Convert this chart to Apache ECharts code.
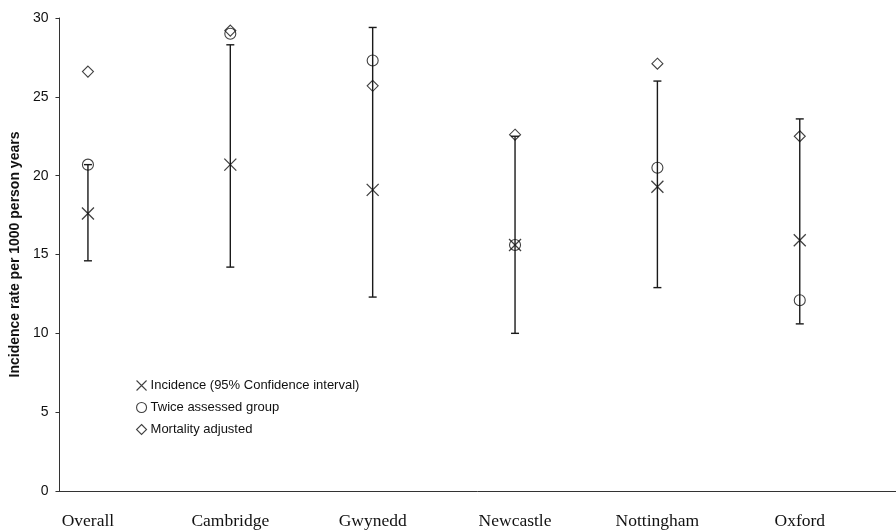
<!DOCTYPE html>
<html>
<head>
<meta charset="utf-8">
<script src="https://cdn.jsdelivr.net/npm/echarts@6/dist/echarts.min.js"></script>
<style>
  html, body { margin: 0; padding: 0; background: #fff; }
  #chart { width: 896px; height: 532px; }
</style>
</head>
<body>
<div id="chart"></div>
<script>
// Incidence rates per 1000 person years, by centre
const categories = ['Overall', 'Cambridge', 'Gwynedd', 'Newcastle', 'Nottingham', 'Oxford'];
const incidence = [17.6, 20.7, 19.1, 15.6, 19.3, 15.9];
const ciLower = [14.6, 14.2, 12.3, 10.0, 12.9, 10.6];
const ciUpper = [20.7, 28.3, 29.4, 22.5, 26.0, 23.6];
const twiceAssessed = [20.7, 29.0, 27.3, 15.6, 20.5, 12.1];
const mortalityAdjusted = [26.6, 29.2, 25.7, 22.6, 27.1, 22.5];
const yTicks = [0, 5, 10, 15, 20, 25, 30];

const INK = '#111';
const crossPath = 'path://M0,0L10,10M10,0L0,10';
const hollow = { color: 'transparent', borderColor: INK, borderWidth: 1.1 };

const chart = echarts.init(document.getElementById('chart'), null, { renderer: 'canvas' });

chart.setOption({
  animation: false,
  backgroundColor: '#fff',
  grid: { left: 54, right: 0, top: 18, bottom: 41 },
  legend: {
    orient: 'vertical',
    left: 131,
    top: 374,
    itemGap: 9,
    itemWidth: 10,
    itemHeight: 10,
    selectedMode: false,
    textStyle: { fontFamily: 'Liberation Sans, Arial, sans-serif', fontSize: 13, color: INK, padding: [0, 0, 0, -1] },
    data: [
      { name: 'Incidence (95% Confidence interval)', icon: crossPath, itemStyle: hollow },
      { name: 'Twice assessed group', icon: 'circle', itemStyle: hollow },
      { name: 'Mortality adjusted', icon: 'diamond', itemStyle: hollow }
    ]
  },
  xAxis: {
    type: 'value',
    min: -0.2,
    max: 5.676,
    splitLine: { show: false },
    axisTick: { show: false },
    axisLine: { show: true, onZero: false, lineStyle: { color: '#333', width: 1 } },
    axisLabel: {
      customValues: categories.map((c, i) => i),
      formatter: v => categories[Math.round(v)],
      margin: 21,
      fontFamily: 'Liberation Serif, Times New Roman, serif',
      fontSize: 17.5,
      color: INK
    }
  },
  yAxis: {
    type: 'value',
    min: 0,
    max: 30,
    interval: 5,
    name: 'Incidence rate per 1000 person years',
    nameLocation: 'middle',
    nameGap: 32,
    nameTextStyle: { fontFamily: 'Liberation Sans, Arial, sans-serif', fontSize: 14, fontWeight: 'bold', color: INK },
    splitLine: { show: false },
    axisLine: { show: true, onZero: false, lineStyle: { color: '#333', width: 1 } },
    axisTick: { show: true, length: 4, inside: false, lineStyle: { color: '#333' } },
    axisLabel: {
      customValues: yTicks,
      margin: 11,
      fontFamily: 'Liberation Sans, Arial, sans-serif',
      fontSize: 14,
      color: INK
    }
  },
  series: [
    {
      name: 'CI',
      type: 'custom',
      data: categories.map((c, i) => [i, ciLower[i], ciUpper[i]]),
      renderItem: (params, api) => {
        const x = api.value(0);
        const lo = api.coord([x, api.value(1)]);
        const hi = api.coord([x, api.value(2)]);
        const w = 4;
        const style = { stroke: '#1a1a1a', lineWidth: 1.4 };
        return {
          type: 'group',
          children: [
            { type: 'line', shape: { x1: lo[0], y1: lo[1], x2: hi[0], y2: hi[1] }, style },
            { type: 'line', shape: { x1: lo[0] - w, y1: lo[1], x2: lo[0] + w, y2: lo[1] }, style },
            { type: 'line', shape: { x1: hi[0] - w, y1: hi[1], x2: hi[0] + w, y2: hi[1] }, style }
          ]
        };
      },
      z: 1
    },
    {
      name: 'Twice assessed group',
      type: 'scatter',
      symbol: 'circle',
      symbolSize: 11,
      itemStyle: hollow,
      data: twiceAssessed.map((v, i) => [i, v]),
      z: 2
    },
    {
      name: 'Mortality adjusted',
      type: 'scatter',
      symbol: 'diamond',
      symbolSize: 11,
      itemStyle: hollow,
      data: mortalityAdjusted.map((v, i) => [i, v]),
      z: 3
    },
    {
      name: 'Incidence (95% Confidence interval)',
      type: 'scatter',
      symbol: crossPath,
      symbolSize: 12,
      itemStyle: { color: 'transparent', borderColor: INK, borderWidth: 1.3 },
      data: incidence.map((v, i) => [i, v]),
      z: 4
    }
  ]
});
</script>
</body>
</html>
